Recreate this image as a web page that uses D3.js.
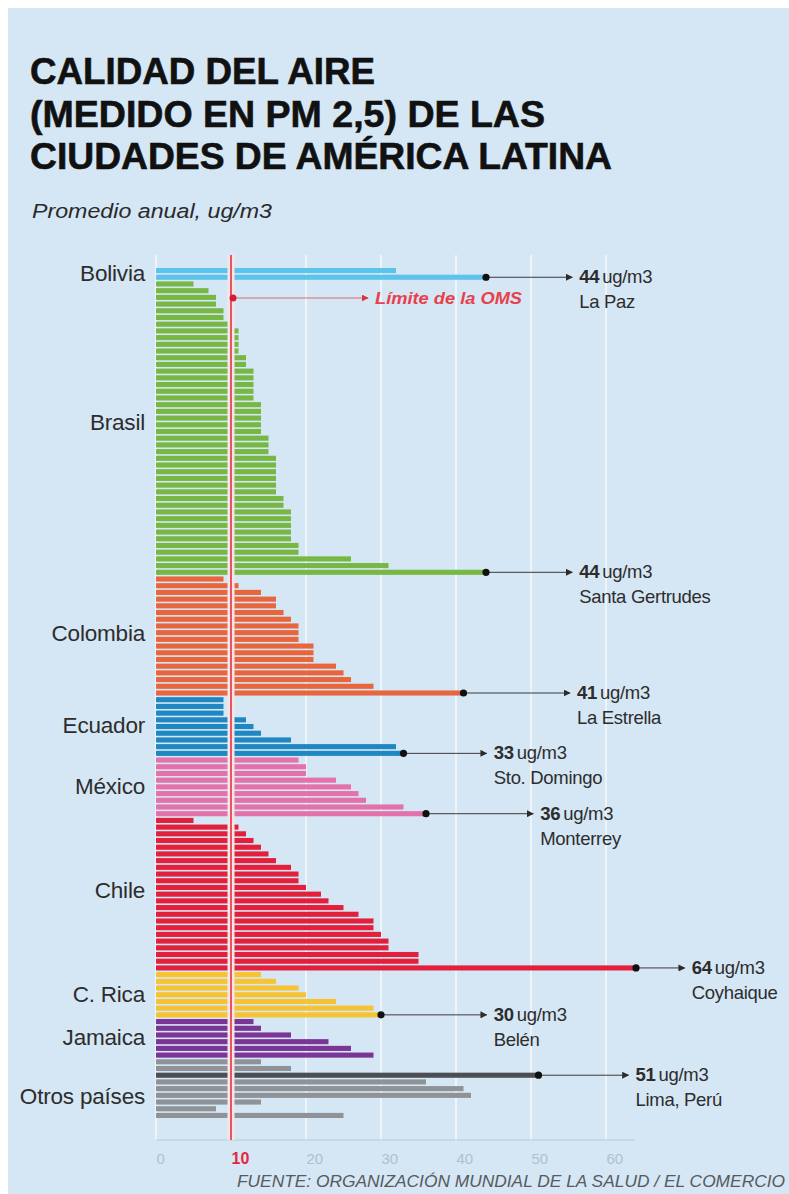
<!DOCTYPE html>
<html>
<head>
<meta charset="utf-8">
<script src="https://cdn.jsdelivr.net/npm/d3@7/dist/d3.min.js"></script>
<style>
  html, body { margin: 0; padding: 0; background: #ffffff; }
  svg { display: block; }
</style>
</head>
<body>
<script>
// ---------- DATA ----------
const groups = ["Bolivia", "Brasil", "Colombia", "Ecuador", "México", "Chile", "C. Rica", "Jamaica", "Otros países"];

const bolivia  = [32, 44];
const brasil   = [5, 7, 8, 8, 9, 9, 10, 11, 11, 11, 11, 12, 12, 13, 13, 13, 13, 13, 14, 14, 14, 14, 14,
                  15, 15, 15, 16, 16, 16, 16, 16, 16, 17, 17, 18, 18, 18, 18, 18, 19, 19, 26, 31, 44];
const colombia = [9, 11, 14, 16, 16, 17, 18, 19, 19, 19, 21, 21, 21, 24, 25, 26, 29, 41];
const ecuador  = [9, 9, 9, 12, 13, 14, 18, 32, 33];
const mexico   = [19, 20, 20, 24, 26, 27, 28, 33, 36];
const chile    = [5, 11, 12, 13, 14, 15, 16, 18, 19, 19, 20, 22, 23, 25, 27, 29, 29, 30, 31, 31, 35, 35, 64];
const costaRica = [14, 16, 19, 20, 24, 29, 30];
const jamaica  = [13, 14, 18, 23, 26, 29];
const otros    = [14, 18, 51, 36, 41, 42, 14, 8, 25];

const seriesValues = [bolivia, brasil, colombia, ecuador, mexico, chile, costaRica, jamaica, otros];

const groupColors = ["#5cc3ec", "#77b844", "#e8663d", "#1f88c2", "#e372ab", "#e2203b", "#f6c432", "#7a3595", "#8f9397"];

const xTicks = [0, 10, 20, 30, 40, 50, 60];
const whoLimit = 10;

// highlighted cities: group, bar index inside group, value, city name
const highlightGroups = ["Bolivia", "Brasil", "Colombia", "Ecuador", "México", "Chile", "C. Rica", "Otros países"];
const highlightIndex  = [1, 43, 17, 8, 8, 22, 6, 2];
const highlightValues = [44, 44, 41, 33, 36, 64, 30, 51];
const highlightCities = ["La Paz", "Santa Gertrudes", "La Estrella", "Sto. Domingo", "Monterrey", "Coyhaique", "Belén", "Lima, Perú"];
// annotation layout: arrow end positions (axis units) and group-label nudges (px)
const arrowEnds = [55.5, 55.5, 55.2, 44.1, 50.3, 70.5, 44.1, 63];
const labelNudge = [0, -5, -2, -1, 0, -3, 0, 0, 8];

// ---------- BUILD ----------
const W = 789, H = 1194;
const FONT = "Liberation Sans, Arial, sans-serif";
const rows = [];
seriesValues.forEach((vals, gi) => {
  vals.forEach((v, i) => rows.push({ group: groups[gi], gi, i, value: v, id: groups[gi] + "-" + i }));
});

const svg = d3.select("body").append("svg").attr("width", W).attr("height", H);

// background
svg.append("rect").attr("x", 8).attr("y", 8).attr("width", W - 8).attr("height", H - 8).attr("fill", "#d5e6f4");

// title
const titleLines = ["CALIDAD DEL AIRE", "(MEDIDO EN PM 2,5) DE LAS", "CIUDADES DE AMÉRICA LATINA"];
const titleWidths = [345, 515, 582];
svg.selectAll("text.title").data(titleLines).join("text")
  .attr("class", "title")
  .attr("x", 30)
  .attr("y", (d, i) => 84 + i * 42.5)
  .attr("font-family", FONT)
  .attr("font-weight", "bold")
  .attr("font-size", 37)
  .attr("fill", "#111")
  .attr("stroke", "#111").attr("stroke-width", 0.6)
  .attr("textLength", (d, i) => titleWidths[i])
  .attr("lengthAdjust", "spacingAndGlyphs")
  .text(d => d);

svg.append("text")
  .attr("x", 32).attr("y", 218)
  .attr("font-family", FONT)
  .attr("font-style", "italic")
  .attr("font-size", 20)
  .attr("fill", "#2a2a2a")
  .attr("textLength", 240)
  .attr("lengthAdjust", "spacingAndGlyphs")
  .text("Promedio anual, ug/m3");

// scales
const x = d3.scaleLinear().domain([0, 60]).range([156, 606]);
const y = d3.scaleBand().domain(rows.map(r => r.id)).range([268, 1118]).paddingInner(0.24).paddingOuter(0);

const gridTop = 255, axisY = 1140;

// gridlines
svg.append("g").selectAll("line").data(xTicks).join("line")
  .attr("x1", d => x(d)).attr("x2", d => x(d))
  .attr("y1", gridTop).attr("y2", axisY)
  .attr("stroke", "#f4f8fc").attr("stroke-width", 1.5);

// axis
const axis = d3.axisBottom(x).tickValues(xTicks).tickSize(0).tickFormat(d3.format("d"));
const axG = svg.append("g").attr("transform", `translate(0,${axisY})`).call(axis);
axG.select(".domain").attr("stroke", "#bccbd8").attr("d", `M${x(0)},0H635`);
axG.selectAll(".tick text")
  .attr("text-anchor", "start")
  .attr("dy", 0).attr("y", 24)
  .attr("font-family", FONT)
  .attr("font-size", d => d === whoLimit ? 16 : 15)
  .attr("fill", d => d === whoLimit ? "#e3283c" : "#b2c0cc")
  .attr("font-weight", d => d === whoLimit ? "bold" : "normal");

// bars
const hlKey = new Map(highlightGroups.map((g, k) => [g + "-" + highlightIndex[k], k]));
svg.append("g").selectAll("rect").data(rows).join("rect")
  .attr("x", x(0))
  .attr("y", d => y(d.id))
  .attr("width", d => x(d.value) - x(0))
  .attr("height", y.bandwidth())
  .attr("fill", d => (d.group === "Otros países" && hlKey.has(d.id)) ? "#4b4e52" : groupColors[d.gi]);

// WHO limit line
svg.append("line")
  .attr("x1", x(whoLimit)).attr("x2", x(whoLimit)).attr("y1", gridTop).attr("y2", axisY)
  .attr("stroke", "#f6e6e8").attr("stroke-width", 7);
svg.append("line")
  .attr("x1", x(whoLimit)).attr("x2", x(whoLimit)).attr("y1", gridTop).attr("y2", axisY)
  .attr("stroke", "#e8303f").attr("stroke-width", 1.6);

// arrow markers
const defs = svg.append("defs");
function marker(id, color) {
  defs.append("marker").attr("id", id)
    .attr("viewBox", "0 0 10 10").attr("refX", 9).attr("refY", 5)
    .attr("markerWidth", 7).attr("markerHeight", 7).attr("markerUnits", "userSpaceOnUse")
    .attr("orient", "auto")
    .append("path").attr("d", "M0,0L10,5L0,10Z").attr("fill", color);
}
marker("arrowDark", "#2b2b2b");
marker("arrowRed", "#e0303f");

// WHO annotation
const whoY = 298;
svg.append("line")
  .attr("x1", x(whoLimit) + 2).attr("x2", 368).attr("y1", whoY).attr("y2", whoY)
  .attr("stroke", "#e06a74").attr("stroke-width", 1.2).attr("marker-end", "url(#arrowRed)");
svg.append("circle").attr("cx", x(whoLimit) + 2).attr("cy", whoY).attr("r", 3.5).attr("fill", "#d01f35");
svg.append("text")
  .attr("x", 375).attr("y", whoY + 6)
  .attr("font-family", FONT)
  .attr("font-style", "italic").attr("font-weight", "bold")
  .attr("font-size", 16).attr("fill", "#e8404c")
  .attr("textLength", 147).attr("lengthAdjust", "spacingAndGlyphs")
  .text("Límite de la OMS");

// group labels
groups.forEach((g, gi) => {
  const ids = rows.filter(r => r.gi === gi).map(r => r.id);
  const top = y(ids[0]);
  const bot = y(ids[ids.length - 1]) + y.bandwidth();
  svg.append("text")
    .attr("x", 145).attr("y", (top + bot) / 2 + 7 + labelNudge[gi])
    .attr("text-anchor", "end")
    .attr("font-family", FONT)
    .attr("font-size", 22.5)
    .attr("letter-spacing", -0.2)
    .attr("fill", "#2d2d2d")
    .text(g);
});

// highlight annotations
highlightGroups.forEach((g, k) => {
  const id = g + "-" + highlightIndex[k];
  const row = rows.find(r => r.id === id);
  const cy = y(id) + y.bandwidth() / 2;
  const cx = x(row.value);
  const ex = x(arrowEnds[k]);
  svg.append("line").attr("x1", cx).attr("x2", ex).attr("y1", cy).attr("y2", cy)
    .attr("stroke", "#3a3a3a").attr("stroke-width", 1).attr("marker-end", "url(#arrowDark)");
  svg.append("circle").attr("cx", cx).attr("cy", cy).attr("r", 3.6).attr("fill", "#111");
  const t = svg.append("text")
    .attr("x", ex + 7).attr("y", cy + 6)
    .attr("font-family", FONT)
    .attr("font-size", 18.5).attr("fill", "#2d2d2d").attr("letter-spacing", -0.3);
  t.append("tspan").attr("font-weight", "bold").text(highlightValues[k]);
  t.append("tspan").attr("dx", 3).text("ug/m3");
  svg.append("text")
    .attr("x", ex + 7).attr("y", cy + 31)
    .attr("font-family", FONT)
    .attr("font-size", 18.5).attr("fill", "#2d2d2d").attr("letter-spacing", -0.3)
    .text(highlightCities[k]);
});

// source
svg.append("text")
  .attr("x", 785).attr("y", 1187)
  .attr("text-anchor", "end")
  .attr("font-family", FONT)
  .attr("font-style", "italic")
  .attr("font-size", 16)
  .attr("fill", "#555b60")
  .attr("textLength", 548).attr("lengthAdjust", "spacingAndGlyphs")
  .text("FUENTE: ORGANIZACIÓN MUNDIAL DE LA SALUD / EL COMERCIO");
</script>
</body>
</html>
